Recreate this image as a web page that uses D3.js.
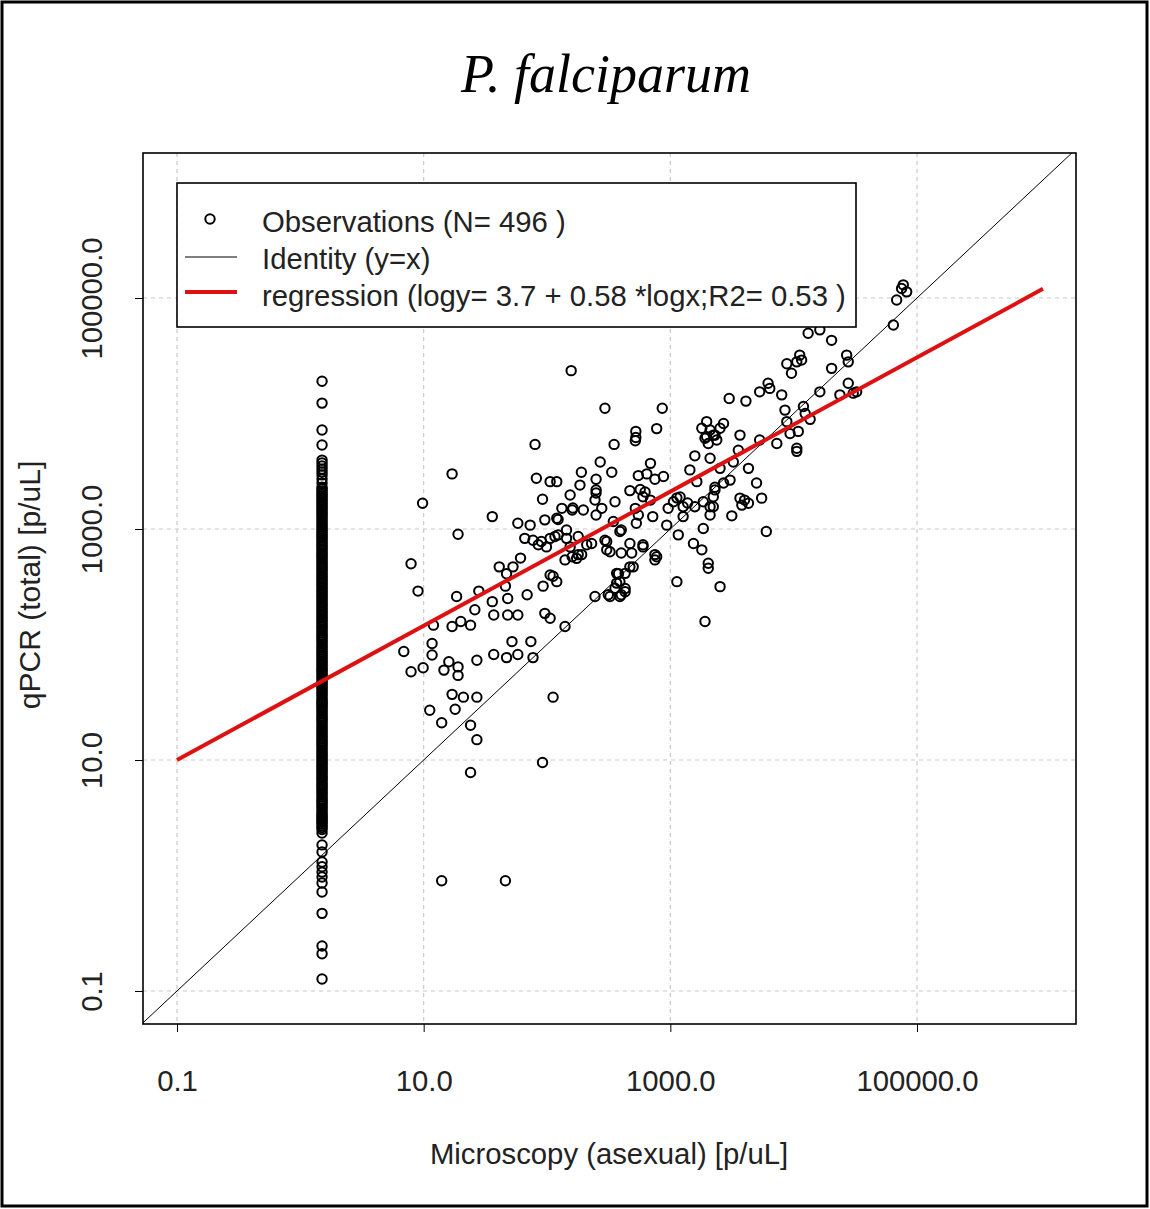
<!DOCTYPE html>
<meta charset="utf-8">
<head>
    <script type="text/javascript" src="https://cdn.jsdelivr.net/npm/d3@7/dist/d3.min.js"></script>
    <style>
        body { margin: 0; background: #fff; }
        text { font-family: "Liberation Sans", Arial, sans-serif; fill: #222; }
        .title { font-family: "Liberation Serif", "Times New Roman", serif; font-style: italic; fill: #000; }
        .grid line { stroke: #c8c8c8; stroke-dasharray: 4,4; stroke-width: 1.2; }
    </style>
</head>
<body>
<script>
    // ticks on both axes
    var tickValues = [0.1, 10, 1000, 100000];
    var tickLabels = ["0.1", "10.0", "1000.0", "100000.0"];

    // microscopy value used for the negative slides (the vertical column)
    var columnMicro = 1.5;
    // qPCR values in the column, top to bottom (the middle part is a solid band)
    var columnQpcr = [19000, 12300, 7200, 5330, 3950, 3730, 3510, 3300, 3120, 2940, 2710, 2500,
        2300, 2220, 2140, 2060, 1990, 1920, 1850, 1780, 1720, 1660, 1600, 1540, 1480, 1420, 1370, 1320,
        1270, 1220, 1170, 1120, 1080, 1040,
        1000, 965, 930, 895, 865, 835, 805, 775, 745, 720, 695, 670, 645, 620, 600, 580, 560, 540, 520, 500,
        482, 465, 448, 432, 416, 400, 386, 372, 358, 345, 332, 320, 308, 297, 286, 276, 266, 256, 247, 238,
        229, 221, 213, 205, 197, 190, 183, 176, 170, 164, 158, 152, 146, 141, 136, 131, 126, 121, 117, 113,
        109, 105, 101,
        97, 93.5, 90, 86.5, 83.5, 80.5, 77.5, 74.5, 72, 69.5, 67, 64.5, 62, 60, 58, 56, 54, 52, 50, 48,
        46.5, 45, 43.5, 42, 40.5, 39, 37.5, 36, 34.5, 33, 32, 31, 30, 29, 28, 27, 26, 25, 24, 23.2,
        22.4, 21.6, 20.8, 20, 19.2, 18.5, 17.8, 17.1, 16.5, 15.9, 15.3, 14.7, 14.2, 13.7, 13.2, 12.7,
        12.2, 11.7, 11.3, 10.9, 10.5, 10.1,
        9.7, 9.35, 9.0, 8.7, 8.4, 8.1, 7.8, 7.5, 7.2, 6.95, 6.7, 6.45, 6.2, 6.0, 5.8, 5.6, 5.4, 5.2, 5.0,
        4.8, 4.6, 4.45, 4.3, 4.15, 4.0, 3.85, 3.7, 3.55, 3.4, 3.3, 3.2, 3.1, 3.0, 2.9, 2.8, 2.7, 2.6, 2.5,
        2.33, 1.84, 1.6, 1.31, 1.19, 1.07, 0.97, 0.86, 0.72, 0.47, 0.245, 0.21, 0.127];

    // [microscopy, qPCR] for the positive slides
    var observations = [
        [80,5400],[17,3000],[9.8,1670],[82,2750],[106,2570],[120,2570],[92,1810],[36,1280],[19,900],[58,1120],
        [73,1080],[96,1200],[120,1240],[66,830],[77,800],[90,780],[106,830],[85,730],[116,860],[99,700],
        [7.9,500],[61,560],[41,470],[47,410],[53,470],[9,290],[18.5,260],[28,290],[46,320],[48,250],
        [36,235],[69,270],[93,320],[112,390],[26,200],[37,180],[48,180],[58,180],[96,186],[12,147],
        [17,143],[20,158],[24,147],[6.9,87],[11.7,102],[11.7,81],[7.9,58],[9.9,63],[16,71],[14.6,60],
        [19,64],[19,54],[27,73],[37,82],[47,77],[58,82],[77,77],[52,106],[74,106],[17,37],
        [21,35],[27,35],[112,35],[11.2,27],[18,27.5],[14,21],[24,20],[27,15],[92,9.5],[24,7.8],
        [14,0.9],[46,0.9],
        [350,5400],[520,5800],[270,3800],[335,3100],[690,3700],[190,3100],[250,2700],[185,2400],[550,2900],[645,3000],
        [750,2700],[880,2850],[154,1970],[250,2050],[245,1780],[356,1720],[470,2150],[570,2200],[600,1900],[690,1780],
        [132,1510],[160,1460],[197,1460],[278,1510],[123,1210],[250,1320],[520,1510],[550,1320],[720,1280],[530,1120],
        [935,1080],[400,980],[345,1160],[123,890],[144,980],[144,830],[179,860],[154,700],[191,600],[160,575],
        [140,540],[174,557],[230,750],[295,800],[305,660],[400,620],[470,750],[600,700],[775,575],[106,400],
        [120,350],[380,410],[470,470],[367,340],[430,305],[314,270],[245,260],[400,270],[624,2090],[1130,1860],
        [157,23500],[295,11100],[860,11100],[525,7000],[525,6200],[775,7400],[1970,8500],[2100,7200],[2230,6500],[1970,6300],
        [2380,5900],[1800,7450],[1580,4300],[2100,4100],[1440,3250],[250,2180],[1060,1720],[1270,1560],[960,1510],[1850,1720],
        [2230,1900],[2100,1560],[162,1520],[1270,1280],
        [390,950],[1850,1010],[1160,890],[1540,750],[1800,660],[305,780],[324,635],[600,730],[486,620],[210,730],
        [179,600],[750,600],[750,540],[2030,505],[2030,457],[500,470],[367,413],[430,413],[390,350],[356,307],
        [430,286],[1130,350],[2530,317],[324,260],[390,260],[1910,158],[106,169],[140,143],
        [6200,18300],[5300,15400],[6400,16500],[3000,13500],[4100,12800],[8000,14500],[16300,15400],[27700,18300],[23700,14500],[30400,15000],
        [8500,10700],[12000,11500],[12400,10000],[8800,8500],[13600,8900],[2300,6500],[1910,6100],[2530,7450],[2700,8200],[2030,5500],
        [3670,6500],[9350,6700],[10900,7000],[7300,5500],[5300,5900],[10600,5000],[10600,4700],[3560,4800],[2530,3350],[3240,3800],
        [4300,3350],[3050,2650],[2700,2500],[2300,2300],[5000,2500],[2300,2180],[1580,1560],[2230,1560],[2100,1320],[3670,1850],
        [4000,1780],[3800,1610],[4300,1670],[5500,1850],[3150,1300],[6000,950],
        [13100,49500],[16300,53000],[20300,43000],[26900,32000],[27700,28000],[11200,32000],[10600,28000],[8800,27000],[9600,22300],[20300,24600],
        [32400,15400],[11600,29000],[75000,121000],[82500,113000],[77400,130000],[68400,96000],[64300,58400],[1200,1890],[1380,1680],[1640,2570]
    ];

    // fitted regression line, read at both ends
    var regMicro = [0.1, 1050000];
    var regQpcr = [10, 120000];

    var legendLabels = ["Observations (N= 496 )", "Identity (y=x)", "regression (logy= 3.7 + 0.58 *logx;R2= 0.53 )"];

    var w = 1150, h = 1209;
    var box = {left: 143, top: 153, right: 1076, bottom: 1024};
    var fs = "29.3px";

    var svg = d3.select("body").append("svg")
        .attr("width", w)
        .attr("height", h);

    svg.append("rect").attr("width", w).attr("height", h).attr("fill", "#fff");
    // outer frame
    svg.append("rect")
        .attr("x", 2).attr("y", 2).attr("width", w - 5).attr("height", h - 5)
        .attr("fill", "none").attr("stroke", "#000").attr("stroke-width", 3);

    var x = d3.scaleLog().domain([0.1, 100000]).range([177, 917]);
    var y = d3.scaleLog().domain([0.1, 100000]).range([991, 298]);

    svg.append("text")
        .attr("class", "title")
        .attr("x", 606).attr("y", 92)
        .attr("text-anchor", "middle")
        .style("font-size", "54px")
        .text("P. falciparum");

    svg.append("defs").append("clipPath").attr("id", "plotclip")
        .append("rect")
        .attr("x", box.left).attr("y", box.top)
        .attr("width", box.right - box.left).attr("height", box.bottom - box.top);

    // grid
    var grid = svg.append("g").attr("class", "grid");
    grid.selectAll(".gx").data(tickValues).enter().append("line")
        .attr("x1", d => x(d)).attr("x2", d => x(d))
        .attr("y1", box.top).attr("y2", box.bottom);
    grid.selectAll(".gy").data(tickValues).enter().append("line")
        .attr("y1", d => y(d)).attr("y2", d => y(d))
        .attr("x1", box.left).attr("x2", box.right);

    var plot = svg.append("g").attr("clip-path", "url(#plotclip)");

    // points
    var pts = columnQpcr.map(v => [columnMicro, v]).concat(observations);
    plot.append("g").selectAll("circle")
        .data(pts)
        .enter().append("circle")
        .attr("cx", d => x(d[0]))
        .attr("cy", d => y(d[1]))
        .attr("r", 4.7)
        .attr("fill", "none")
        .attr("stroke", "#000")
        .attr("stroke-width", 2);

    // identity y = x over the whole box
    var lo = x.invert(box.left), hi = x.invert(box.right);
    plot.append("line")
        .attr("x1", x(lo)).attr("y1", y(lo))
        .attr("x2", x(hi)).attr("y2", y(hi))
        .attr("stroke", "#000").attr("stroke-width", 1);

    var regLine = d3.line().x(d => x(d[0])).y(d => y(d[1]));
    plot.append("path")
        .datum(regMicro.map((m, i) => [m, regQpcr[i]]))
        .attr("d", regLine)
        .attr("fill", "none")
        .attr("stroke", "#dd1111")
        .attr("stroke-width", 4);

    // axes
    var xAxis = d3.axisBottom(x).tickValues(tickValues).tickFormat((d, i) => tickLabels[i])
        .tickSize(8).tickPadding(38);
    var gx = svg.append("g").attr("transform", "translate(0," + box.bottom + ")").call(xAxis);
    gx.select(".domain").remove();
    gx.selectAll("text").style("font-size", fs).attr("fill", "#222")
        .style("font-family", "Liberation Sans, Arial, sans-serif");

    var yAxis = d3.axisLeft(y).tickValues(tickValues).tickFormat((d, i) => tickLabels[i])
        .tickSize(8).tickPadding(18);
    var gy = svg.append("g").attr("transform", "translate(" + box.left + ",0)").call(yAxis);
    gy.select(".domain").remove();
    gy.selectAll("text")
        .style("font-size", fs).attr("fill", "#222")
        .style("font-family", "Liberation Sans, Arial, sans-serif")
        .attr("text-anchor", "middle")
        .attr("dy", 0)
        .attr("x", 0).attr("y", 0)
        .attr("transform", "translate(-41,0) rotate(-90)");

    // box
    svg.append("rect")
        .attr("x", box.left).attr("y", box.top)
        .attr("width", box.right - box.left).attr("height", box.bottom - box.top)
        .attr("fill", "none").attr("stroke", "#000").attr("stroke-width", 1.6);

    svg.append("text")
        .attr("x", 609).attr("y", 1164)
        .attr("text-anchor", "middle")
        .style("font-size", fs)
        .text("Microscopy (asexual) [p/uL]");

    svg.append("text")
        .attr("transform", "translate(40,585) rotate(-90)")
        .attr("text-anchor", "middle")
        .style("font-size", "30px")
        .text("qPCR (total) [p/uL]");

    // legend
    var leg = svg.append("g");
    leg.append("rect")
        .attr("x", 177).attr("y", 183).attr("width", 679).attr("height", 144)
        .attr("fill", "#fff").attr("stroke", "#000").attr("stroke-width", 1.6);
    leg.append("circle").attr("cx", 210).attr("cy", 219).attr("r", 4.7)
        .attr("fill", "none").attr("stroke", "#000").attr("stroke-width", 2);
    leg.append("line").attr("x1", 185).attr("x2", 237).attr("y1", 257).attr("y2", 257)
        .attr("stroke", "#000").attr("stroke-width", 1.2);
    leg.append("line").attr("x1", 185).attr("x2", 237).attr("y1", 292).attr("y2", 292)
        .attr("stroke", "#dd1111").attr("stroke-width", 4);
    leg.selectAll(".lt").data(legendLabels).enter().append("text")
        .attr("x", 262)
        .attr("y", (d, i) => 232 + i * 37)
        .style("font-size", fs)
        .text(d => d);
</script>
</body>
